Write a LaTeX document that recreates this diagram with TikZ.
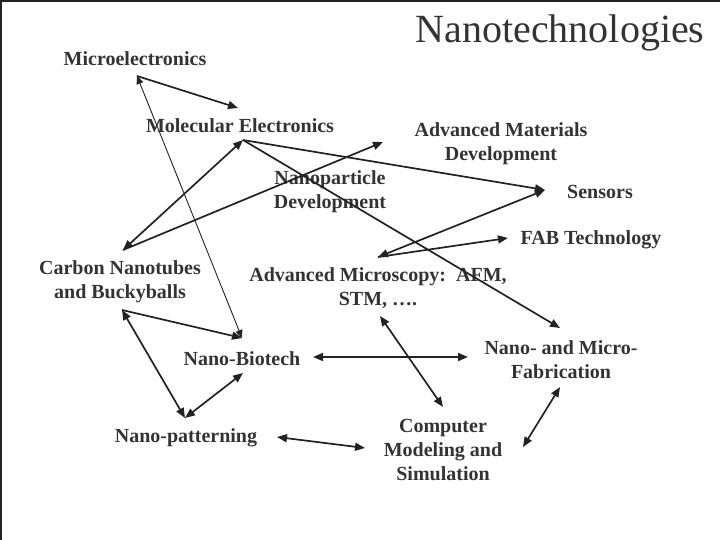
\documentclass[tikz,border=0pt]{standalone}
\usepackage{fontspec}
\setmainfont{Liberation Serif}
\usetikzlibrary{arrows.meta}
\definecolor{nttext}{RGB}{51,51,51}
\definecolor{ntline}{RGB}{34,34,34}

\begin{document}
\begin{tikzpicture}[x=1pt,y=-1pt,
  lbl/.style={font=\fontsize{20}{24}\selectfont\bfseries, nttext, align=center, inner sep=0pt},
  link/.style={ntline, line width=1.7pt, {Triangle[length=10pt,width=8pt]}-{Triangle[length=10pt,width=8pt]}},
  onelink/.style={ntline, line width=1.7pt, -{Triangle[length=10pt,width=8pt]}}]
  \useasboundingbox (0,0) rectangle (720,540);
  % Slide edges
  \draw[ntline, line width=2pt] (1,540) -- (1,1) -- (720,1);
  % Title
  \node[font=\fontsize{40}{44}\selectfont, nttext, inner sep=0pt] (title) at (560,33) {Nanotechnologies};
  % Topics
  \node[lbl] (micro) at (135,59) {Microelectronics};
  \node[lbl] (molec) at (240,126) {Molecular Electronics};
  \node[lbl] (advmat) at (501,144) {Advanced Materials\\Development};
  \node[lbl] (nanopart) at (330,192) {Nanoparticle\\Development};
  \node[lbl] (sensors) at (600,192) {Sensors};
  \node[lbl] (fab) at (591,240) {FAB Technology};
  \node[lbl] (carbon) at (120,282) {Carbon Nanotubes\\and Buckyballs};
  \node[lbl] (advmic) at (378,288) {Advanced Microscopy:\ \ AFM,\\STM, \dots.};
  \node[lbl] (biotech) at (242,359) {Nano-Biotech};
  \node[lbl] (nanofab) at (561,360) {Nano- and Micro-\\Fabrication};
  \node[lbl] (pattern) at (186,438) {Nano-patterning};
  \node[lbl] (compmod) at (443,450) {Computer\\Modeling and\\Simulation};
  % Arrow ends
  \coordinate (micro-s) at (137,76);
  \coordinate (molec-n) at (238,108);
  \coordinate (molec-s) at (243,140);
  \coordinate (advmat-s) at (383,142);
  \coordinate (sensors-w) at (545,190);
  \coordinate (fab-w) at (508,238);
  \coordinate (carbon-n) at (123,250);
  \coordinate (carbon-s) at (122,310);
  \coordinate (advmic-n) at (378,257);
  \coordinate (advmic-s) at (380,316);
  \coordinate (biotech-n) at (242,338);
  \coordinate (biotech-e) at (313,357);
  \coordinate (biotech-s) at (243,373);
  \coordinate (nanofab-n) at (560,328);
  \coordinate (nanofab-w) at (468,357);
  \coordinate (nanofab-s) at (560,387);
  \coordinate (pattern-n) at (185,418);
  \coordinate (pattern-e) at (277,437);
  \coordinate (compmod-n) at (443,407);
  \coordinate (compmod-w) at (365,448);
  \coordinate (compmod-e) at (523,447);
  % Connectors
  \draw[onelink] (micro-s) -- (molec-n);
  \draw[ntline, line width=0.9pt, {Triangle[length=8pt,width=7pt]}-{Triangle[length=8pt,width=7pt]}] (micro-s) -- (biotech-n);
  \draw[link] (carbon-n) -- (molec-s);
  \draw[onelink] (carbon-n) -- (advmat-s);
  \draw[onelink] (molec-s) -- (sensors-w);
  \draw[onelink] (molec-s) -- (nanofab-n);
  \draw[link] (sensors-w) -- (advmic-n);
  \draw[onelink] (advmic-n) -- (fab-w);
  \draw[onelink] (carbon-s) -- (biotech-n);
  \draw[link] (carbon-s) -- (pattern-n);
  \draw[link] (pattern-n) -- (biotech-s);
  \draw[link] (biotech-e) -- (nanofab-w);
  \draw[link] (advmic-s) -- (compmod-n);
  \draw[link] (pattern-e) -- (compmod-w);
  \draw[link] (nanofab-s) -- (compmod-e);
\end{tikzpicture}
\end{document}
